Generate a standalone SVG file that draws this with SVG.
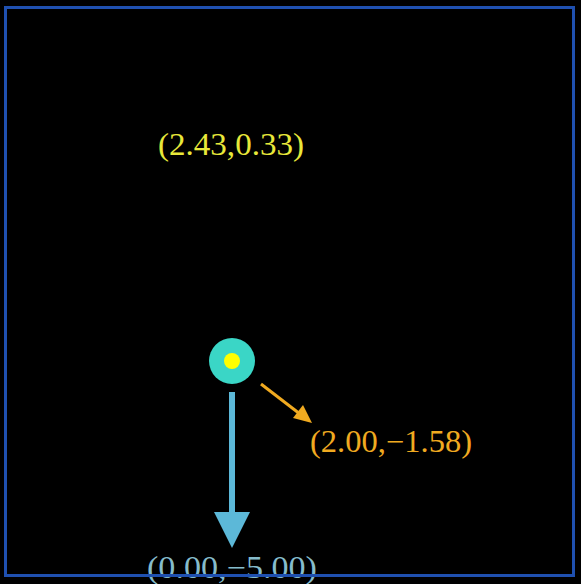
<svg xmlns="http://www.w3.org/2000/svg" width="581" height="584" viewBox="0 0 581 584">
<style>
.lbl{font-family:"Liberation Serif","DejaVu Serif",serif;font-size:31px}
</style>
<rect width="581" height="584" fill="#000"/>
<g id="labels">
<text id="label-yellow" class="lbl" x="158" y="155" fill="#e8e83a" textLength="146" lengthAdjust="spacingAndGlyphs">(2.43,0.33)</text>
<text id="label-orange" class="lbl" x="310" y="452" fill="#f0aa20" textLength="162" lengthAdjust="spacingAndGlyphs">(2.00,−1.58)</text>
<text id="label-blue" class="lbl" x="147" y="578" fill="#86bccc" textLength="170" lengthAdjust="spacingAndGlyphs">(0.00,−5.00)</text>
</g>
<rect id="frame" x="5.5" y="7.5" width="568" height="568" fill="none" stroke="#1f50b0" stroke-width="3"/>
<g id="particle">
<circle cx="232" cy="361" r="23" fill="#3ad6c6"/>
<circle cx="232" cy="361" r="8" fill="#ffff00"/>
</g>
<g id="connectors">
<g id="arrow-down" fill="#5cb8d8">
<rect x="229" y="392" width="6" height="122"/>
<polygon points="214,512 250,512 232,548"/>
</g>
<g id="arrow-orange">
<line x1="261" y1="384" x2="300" y2="414" stroke="#f0aa20" stroke-width="3"/>
<polygon points="312,423 293,418 303,405" fill="#f0aa20"/>
</g>
</g>
</svg>
